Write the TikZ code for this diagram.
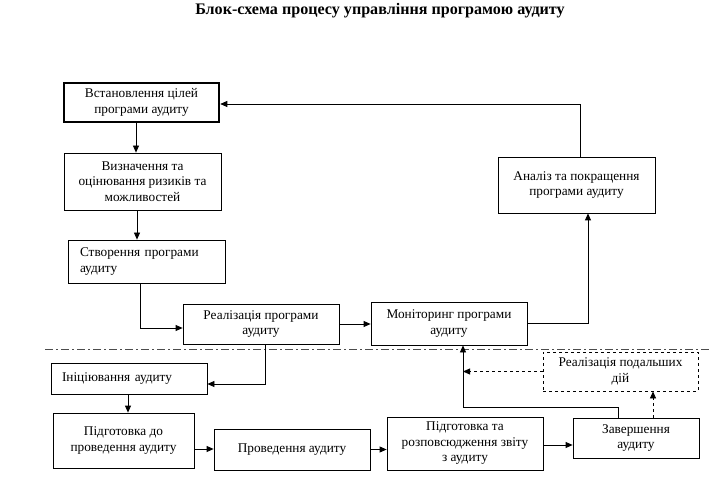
\documentclass[tikz,border=0pt]{standalone}
\usepackage{fontspec}
\setmainfont{Liberation Serif}
\usetikzlibrary{arrows.meta}
\begin{document}
\begin{tikzpicture}[x=1pt,y=-1pt,
  box/.style={draw,line width=0.8pt,inner sep=4pt,align=center,font=\fontsize{13.3}{15.5}\selectfont},
  lbox/.style={box,align=left,text width=#1},
  arr/.style={line width=0.8pt,-{Triangle[length=7pt,width=6pt]}},
  darr/.style={arr,dashed},
  sep/.style={line width=0.8pt,black!70,dash pattern=on 8pt off 3pt on 2pt off 3pt}]
\useasboundingbox (0,0) rectangle (712,481);
\node[font=\fontsize{16.1}{19}\selectfont\bfseries] (title) at (380,11) {Блок-схема процесу управління програмою аудиту};

\node[box,line width=2.5pt,minimum width=155pt,minimum height=39pt] (b1) at (141.5,102.5) {Встановлення цілей\\програми аудиту};
\node[box,minimum width=157pt,minimum height=57pt] (b2) at (142.5,181.5) {Визначення та\\оцінювання ризиків та\\можливостей};
\node[lbox=133pt,minimum width=157pt,minimum height=43pt] (b3) at (146.5,261.5) {Створення програми\\аудиту};
\node[box,minimum width=156pt,minimum height=40pt] (b4) at (261,324) {Реалізація програми\\аудиту};
\node[box,minimum width=156pt,minimum height=43pt] (b5) at (449,323.5) {Моніторинг програми\\аудиту};
\node[box,minimum width=157pt,minimum height=56pt] (b6) at (576.5,185) {Аналіз та покращення\\програми аудиту};

\node[lbox=134pt,minimum width=156pt,minimum height=31pt] (b7) at (129,378.5) {Ініціювання аудиту};
\node[box,minimum width=141pt,minimum height=55pt] (b8) at (123.5,440.5) {Підготовка до\\проведення аудиту};
\node[box,minimum width=156pt,minimum height=41pt] (b9) at (292,449.5) {Проведення аудиту};
\node[box,minimum width=156pt,minimum height=53pt] (b10) at (465,443.5) {Підготовка та\\розповсюдження звіту\\з аудиту};
\node[box,minimum width=126pt,minimum height=40pt] (b11) at (636,438) {Завершення\\аудиту};
\node[box,dashed,minimum width=155pt,minimum height=39pt] (b12) at (620.5,371.5) {Реалізація подальших\\дій};

\coordinate (sepL) at (45,349);
\coordinate (sepR) at (712,349);
\draw[sep] (sepL) -- (sepR);

\draw[arr] ([xshift=-5.5pt]b1.south) -- ([xshift=-5.5pt]b1.south |- b2.north);
\draw[arr] ([xshift=-5.5pt]b2.south) -- ([xshift=-5.5pt]b2.south |- b3.north);
\draw[arr] ([xshift=-6.5pt]b3.south) |- ([yshift=-4pt]b4.west);
\draw[arr] (b4.east) -- (b4.east -| b5.west);
\draw[arr] (b5.east) -| ([xshift=11.5pt]b6.south);
\draw[arr] ([xshift=3.5pt]b6.north) |- ([yshift=-1.5pt]b1.east);
\draw[arr] ([xshift=4pt]b4.south) |- ([yshift=-5.5pt]b7.east);
\draw[arr] ([xshift=-1pt]b7.south) -- ([xshift=-1pt]b7.south |- b8.north);
\draw[arr] ([yshift=-8.5pt]b8.east) -- ([yshift=-8.5pt]b8.east -| b9.west);
\draw[arr] (b9.east) -- (b9.east -| b10.west);
\draw[arr] ([yshift=-1.5pt]b10.east) -- ([yshift=-1.5pt]b10.east -| b11.west);
\coordinate (j) at (463,407);
\draw[arr] ([xshift=-18pt]b11.north) |- (j) -- (j |- b5.south);
\draw[darr] (b12.west) -- (b12.west -| j);
\draw[darr] ([xshift=17pt]b11.north) -- ([xshift=17pt]b11.north |- b12.south);
\end{tikzpicture}
\end{document}
